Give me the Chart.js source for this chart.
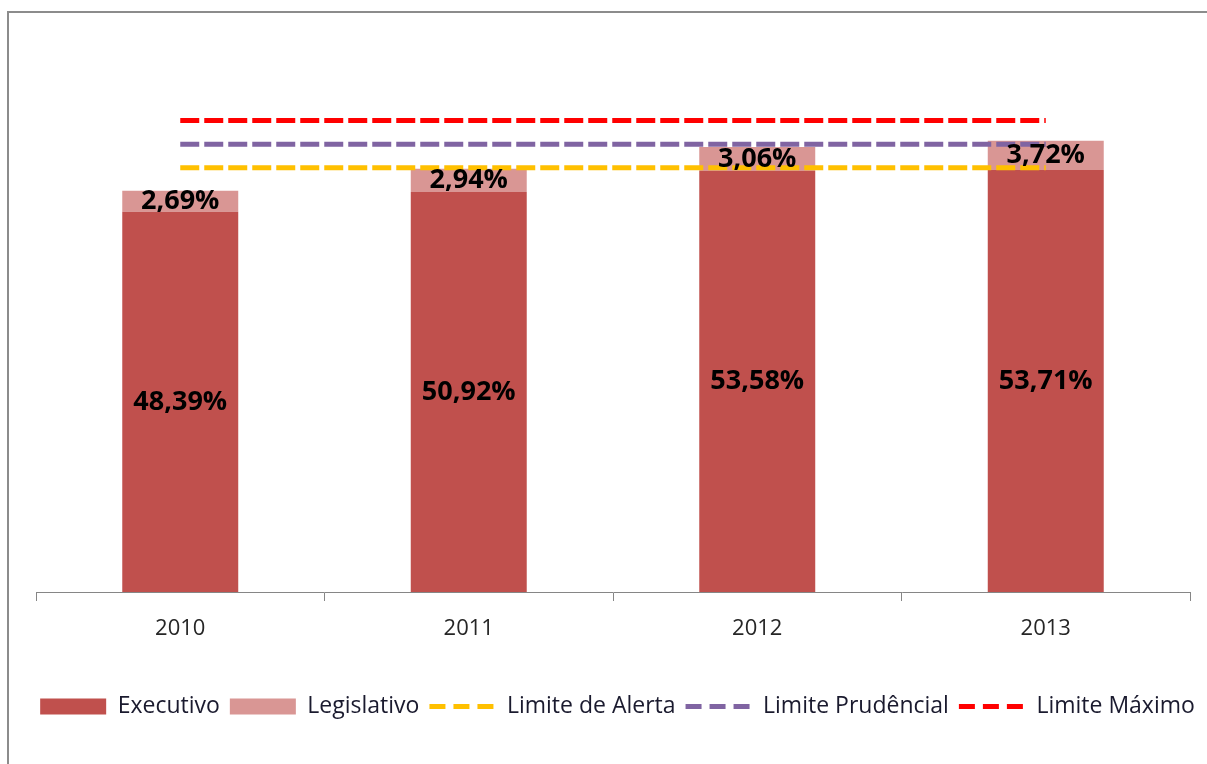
<!DOCTYPE html>
<html lang="pt-BR">
<head>
<meta charset="utf-8">
<title>Despesa com Pessoal</title>
<script src="https://cdn.jsdelivr.net/npm/chart.js@4.4.1/dist/chart.umd.min.js"></script>
<style>
    html, body { margin: 0; padding: 0; background: #fff; overflow: hidden; }
    #wrap { position: relative; width: 1207px; height: 764px; }
    #frame {
        position: absolute; left: 7px; top: 11px; width: 1400px; height: 900px;
        border-left: 2px solid #8c8c8c; border-top: 2px solid #8c8c8c;
        pointer-events: none;
    }
</style>
</head>
<body>
<div id="wrap">
    <canvas id="pessoalChart" width="1207" height="764"></canvas>
    <div id="frame"></div>
</div>
<script>
const anos = ['2010', '2011', '2012', '2013'];
const executivo = [48.39, 50.92, 53.58, 53.71];
const legislativo = [2.69, 2.94, 3.06, 3.72];
const limiteAlerta = [54, 54, 54, 54];
const limitePrudencial = [57, 57, 57, 57];
const limiteMaximo = [60, 60, 60, 60];

const fmtPct = v => v.toFixed(2).replace('.', ',') + '%';

// writes the value in the middle of each stacked bar segment
const barLabels = {
    id: 'barLabels',
    afterDatasetsDraw(chart) {
        const ctx = chart.ctx;
        ctx.save();
        ctx.font = "bold 27px 'Open Sans', sans-serif";
        ctx.fillStyle = '#000';
        ctx.textAlign = 'center';
        ctx.textBaseline = 'middle';
        chart.data.datasets.forEach((ds, i) => {
            if (ds.type !== 'bar') return;
            chart.getDatasetMeta(i).data.forEach((bar, j) => {
                ctx.fillText(fmtPct(ds.data[j]), bar.x, (bar.y + bar.base) / 2);
            });
        });
        ctx.restore();
    }
};

Chart.defaults.font.family = "'Open Sans', sans-serif";

const limite = (label, data, color, stack) => ({
    type: 'line', label, data, stack,
    borderColor: color, backgroundColor: color,
    borderWidth: 5, borderDash: [19, 5], borderCapStyle: 'butt',
    pointRadius: 0, pointHoverRadius: 0, fill: false, order: 1
});

new Chart(document.getElementById('pessoalChart'), {
    type: 'bar',
    data: {
        labels: anos,
        datasets: [
            { type: 'bar', label: 'Executivo', data: executivo, backgroundColor: '#C0504D', order: 2 },
            { type: 'bar', label: 'Legislativo', data: legislativo, backgroundColor: '#D99694', order: 2 },
            limite('Limite de Alerta', limiteAlerta, '#FFC000', 'alerta'),
            limite('Limite Prudêncial', limitePrudencial, '#8064A2', 'prudencial'),
            limite('Limite Máximo', limiteMaximo, '#FF0000', 'maximo')
        ]
    },
    options: {
        responsive: false,
        animation: false,
        layout: { padding: { left: 28, right: 0, top: 42, bottom: 36 } },
        datasets: { bar: { categoryPercentage: 1, barPercentage: 0.402 } },
        scales: {
            x: {
                stacked: true,
                grid: { drawOnChartArea: false, tickLength: 9, color: '#868686' },
                border: { color: '#868686', width: 1 },
                ticks: { color: '#262626', font: { size: 22 }, padding: 15 },
                afterFit: s => { s.height = 93; }
            },
            y: {
                stacked: true, min: 0, max: 70,
                grid: { display: false }, border: { display: false },
                ticks: { display: false },
                afterFit: s => { s.width = 8; }
            },
            yr: {
                position: 'right',
                grid: { display: false }, border: { display: false },
                ticks: { display: false },
                afterFit: s => { s.width = 17; }
            }
        },
        plugins: {
            tooltip: { enabled: false },
            legend: {
                position: 'bottom',
                labels: {
                    color: '#1a1a2e',
                    font: { size: 23 },
                    boxHeight: 16,
                    padding: 10,
                    usePointStyle: true,
                    pointStyleWidth: 66,
                    generateLabels: chart => chart.data.datasets.map((ds, i) => ({
                        text: ds.label,
                        datasetIndex: i,
                        fillStyle: ds.backgroundColor,
                        strokeStyle: ds.type === 'line' ? ds.borderColor : ds.backgroundColor,
                        lineWidth: ds.type === 'line' ? 5 : 0,
                        lineDash: ds.type === 'line' ? [16, 8] : [],
                        lineCap: 'butt',
                        pointStyle: ds.type === 'line' ? 'line' : 'rect',
                        fontColor: '#1a1a2e',
                        hidden: false
                    }))
                }
            }
        }
    },
    plugins: [barLabels]
});
</script>
</body>
</html>
